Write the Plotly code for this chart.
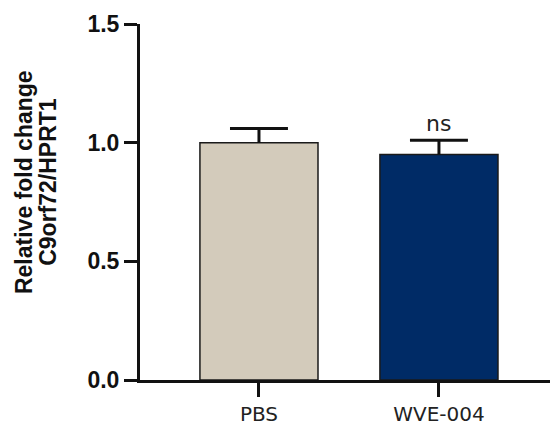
import plotly.graph_objects as go

categories = ["PBS", "WVE-004"]
values = [1.00, 0.95]
errors = [0.06, 0.06]
colors = ["#D3CBBB", "#002B66"]
y_ticks = [0, 0.5, 1.0, 1.5]
y_tick_labels = ["0.0", "0.5", "1.0", "1.5"]
sig_label = "ns"

xpos = list(range(len(categories)))
cap_half = 0.161  # half cap width in category units

fig = go.Figure()
fig.add_trace(go.Bar(
    x=xpos, y=values, width=0.656,
    marker=dict(color=colors, line=dict(color="#1a1a1a", width=1.5)),
    showlegend=False, hoverinfo="skip",
))

# upper-only error bars built from the data
ex, ey = [], []
for xi, v, e in zip(xpos, values, errors):
    ex += [xi, xi, None, xi - cap_half, xi + cap_half, None]
    ey += [v, v + e, None, v + e, v + e, None]
fig.add_trace(go.Scatter(x=ex, y=ey, mode="lines",
                         line=dict(color="#111111", width=3),
                         showlegend=False, hoverinfo="skip"))

fig.add_annotation(x=xpos[1], y=values[1] + errors[1] + 0.07, text=sig_label,
                   showarrow=False, xref="x", yref="y", yanchor="middle",
                   font=dict(family="DejaVu Sans", size=22, color="#222222"))

fig.add_annotation(x=-0.283, y=0.556, xref="paper", yref="paper",
                   text="Relative fold change", textangle=-90, showarrow=False,
                   xanchor="center", yanchor="middle",
                   font=dict(family="Liberation Sans", size=23, color="#111111", weight="bold"))
fig.add_annotation(x=-0.225, y=0.556, xref="paper", yref="paper",
                   text="C9orf72/HPRT1", textangle=-90, showarrow=False,
                   xanchor="center", yanchor="middle",
                   font=dict(family="Liberation Sans", size=23, color="#111111", weight="bold"))

fig.update_layout(
    width=550, height=427,
    margin=dict(l=140, r=0, t=24, b=47),
    plot_bgcolor="white", paper_bgcolor="white",
    xaxis=dict(range=[-0.661, 1.617], tickmode="array", tickvals=xpos, ticktext=categories,
               showline=True, linecolor="#111111", linewidth=3,
               ticks="outside", ticklen=14, tickwidth=3, tickcolor="#111111",
               showgrid=False, zeroline=False,
               tickfont=dict(family="DejaVu Sans", size=20, color="#222222")),
    yaxis=dict(range=[0, 1.5], tickmode="array", tickvals=y_ticks, ticktext=y_tick_labels,
               showline=True, linecolor="#111111", linewidth=3,
               ticks="outside", ticklen=13, tickwidth=3, tickcolor="#111111",
               showgrid=False, zeroline=False,
               tickfont=dict(family="Liberation Sans", size=23, color="#111111", weight="bold")),
)

fig.write_html("out.html", config={"displayModeBar": False},
               post_script="document.body.style.margin='0';document.body.style.overflow='hidden';")
